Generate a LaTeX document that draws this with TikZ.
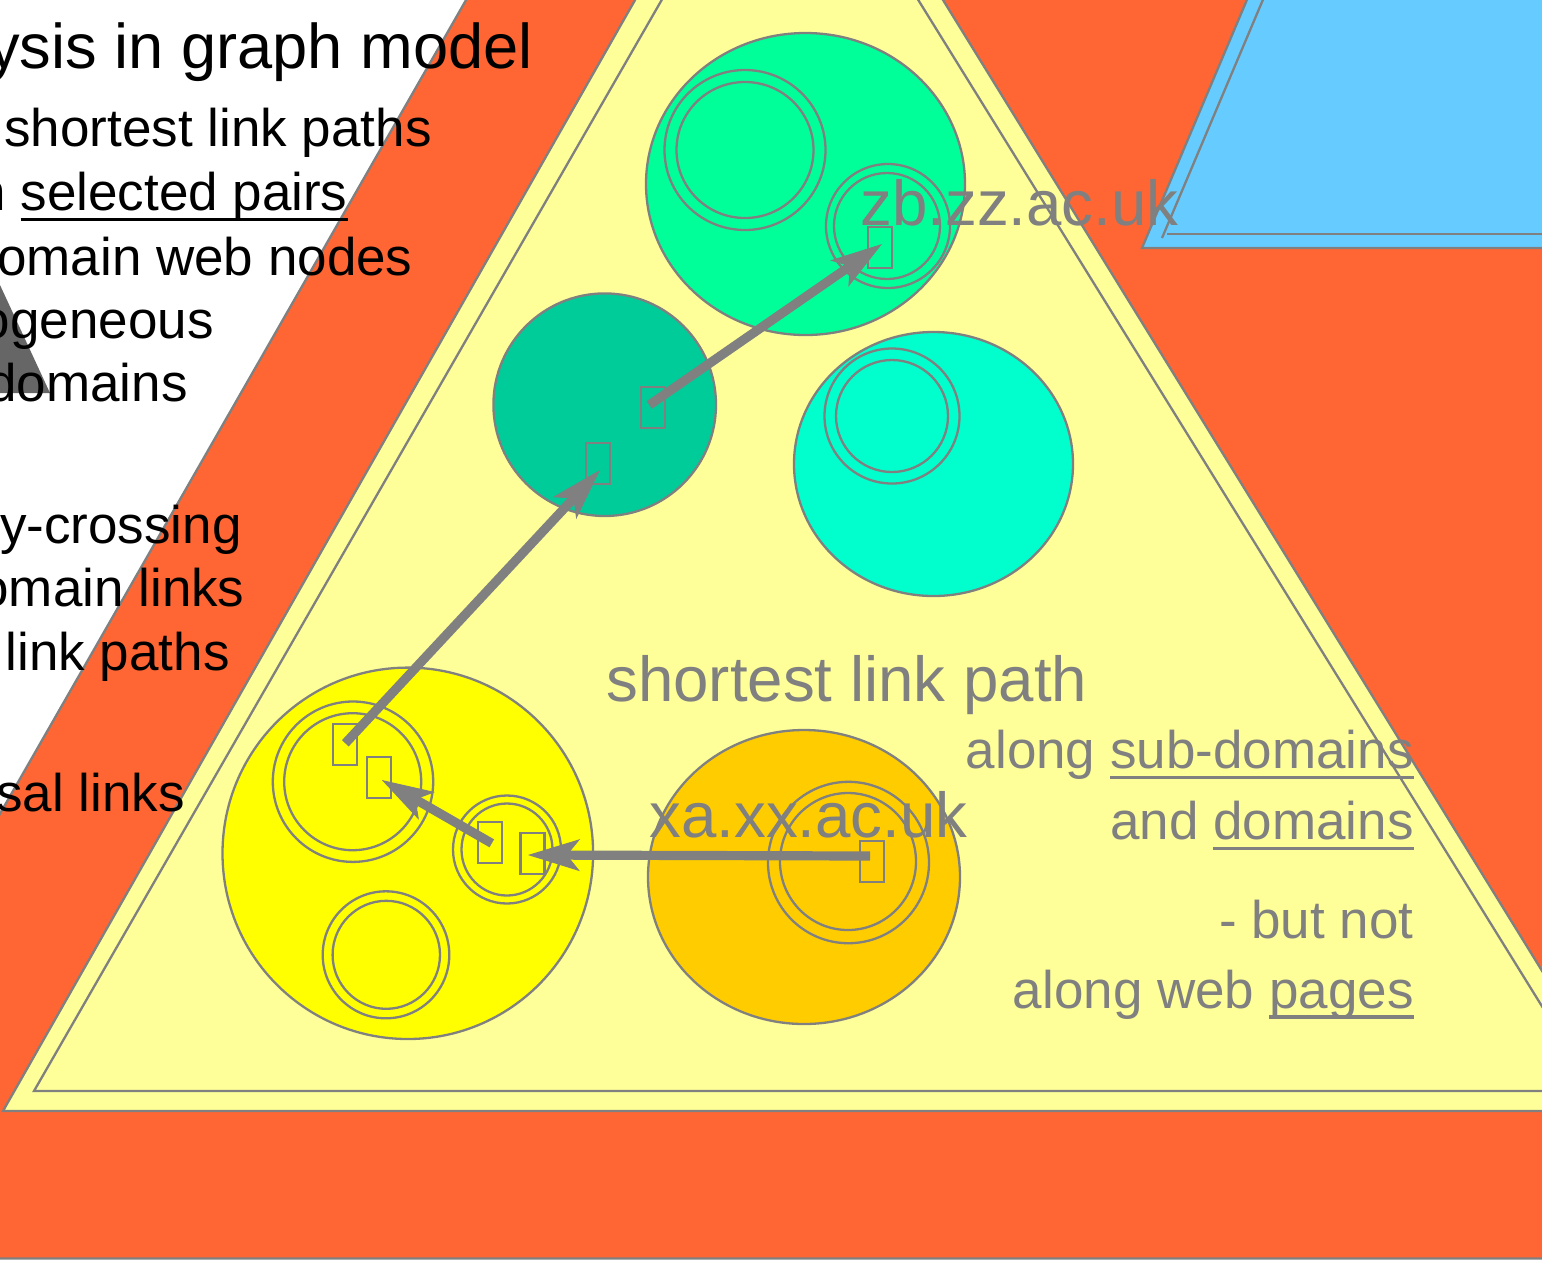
\documentclass[tikz,border=0pt]{standalone}
\usepackage{fontspec}
\setmainfont{Liberation Sans}
\usetikzlibrary{arrows.meta}

\definecolor{bgorange}{HTML}{FF6633}
\definecolor{paleyellow}{HTML}{FFFF99}
\definecolor{skyblue}{HTML}{66CCFF}
\definecolor{springgreen}{HTML}{00FF99}
\definecolor{seagreen}{HTML}{00CC99}
\definecolor{aquagreen}{HTML}{00FFCC}
\definecolor{brightyellow}{HTML}{FFFF00}
\definecolor{goldyellow}{HTML}{FFCC00}
\definecolor{linegray}{HTML}{808080}
\definecolor{shadegray}{HTML}{666666}

% underline drawn as a rule below the baseline, independent of descenders
\newcommand\ulword[1]{\setbox0=\hbox{#1}\rlap{\rule[-0.2em]{\wd0}{0.06em}}\box0}

\tikzset{
  outline/.style={draw=linegray, line width=1.15pt},
  pagebox/.style={draw=linegray, line width=1.15pt, minimum width=12pt,
    minimum height=20.5pt, inner sep=0pt},
  linkarrow/.style={draw=linegray, line width=4.6pt,
    -{Stealth[length=26pt, width=16pt, inset=6.5pt, line width=0.5pt]}},
  bodytext/.style={inner sep=0pt, font=\fontsize{26.5pt}{30pt}\selectfont},
  bigtext/.style={inner sep=0pt, font=\fontsize{31.8pt}{36pt}\selectfont},
}

\begin{document}
\begin{tikzpicture}[x=0.5pt, y=-0.5pt]
\useasboundingbox (0,0) rectangle (1542,1260);
\clip (0,0) rectangle (1542,1260);
\fill[white] (0,0) rectangle (1542,1260);

% dark grey wedge at the left margin
\fill[shadegray] (-20,241.8) -- (50,393) -- (-20,393) -- cycle;

% large orange background triangle
\filldraw[outline, fill=bgorange] (494.7,-50) -- (1700,-50) -- (1700,1258.5)
  -- (-254.8,1258.5) -- cycle;

% blue triangle, top right
\filldraw[outline, fill=skyblue] (1142,248) -- (1268,-50) -- (1700,-50)
  -- (1700,248) -- cycle;
\draw[outline] (1284,-50) -- (1162,238);
\draw[outline] (1167,234) -- (1700,234);

% pale yellow triangle with inner border line
\filldraw[outline, fill=paleyellow] (782.8,-259.7) -- (3,1111) -- (1628.5,1111) -- cycle;
\draw[outline] (785.2,-214.7) -- (34,1091) -- (1594.5,1091) -- cycle;

% domain circles
\filldraw[outline, fill=springgreen] (805.5,184) ellipse [x radius=159.5, y radius=151];
\draw[outline] (745,150) ellipse [x radius=80.5, y radius=80];
\draw[outline] (745,150) ellipse [x radius=68.5, y radius=68];
\draw[outline] (888,226) circle [radius=62];
\draw[outline] (887,226) circle [radius=53];

\filldraw[outline, fill=seagreen] (604.7,404.7) circle [radius=111.3];

\filldraw[outline, fill=aquagreen] (933.5,464) ellipse [x radius=139.5, y radius=132];
\draw[outline] (892,416) circle [radius=67.5];
\draw[outline] (892,416) circle [radius=56];

\filldraw[outline, fill=brightyellow] (407.8,853.3) ellipse [x radius=185.3, y radius=185.7];
\draw[outline] (353,781.7) circle [radius=80.2];
\draw[outline] (352.7,781.7) circle [radius=68.5];
\draw[outline] (507,849.5) circle [radius=54];
\draw[outline] (507,849.5) ellipse [x radius=45.5, y radius=46];
\draw[outline] (386,954.8) ellipse [x radius=63.3, y radius=63.5];
\draw[outline] (386.3,954.8) ellipse [x radius=53.7, y radius=54];

\filldraw[outline, fill=goldyellow] (804,877) ellipse [x radius=156, y radius=147];
\draw[outline] (848.5,862.5) ellipse [x radius=80.5, y radius=80.7];
\draw[outline] (848,861.5) ellipse [x radius=68, y radius=68.5];

% web pages
\node[pagebox] (pz)  at (880,247.5) {};
\node[pagebox] (pg1) at (653,407.5) {};
\node[pagebox] (pg2) at (598.3,463.8) {};
\node[pagebox] (pa)  at (345.3,744.5) {};
\node[pagebox] (pb)  at (378.8,777.5) {};
\node[pagebox] (pc)  at (489.8,842.5) {};
\node[pagebox] (pd)  at (532.5,853.8) {};
\node[pagebox] (po)  at (872,861.5) {};

% shortest link path
\draw[linkarrow] ([shift={(-2,-5.5)}]po.center) -- ([shift={(-4.5,1.2)}]pd.center);
\draw[linkarrow] ([shift={(2,0.8)}]pc.center) -- ([shift={(3,2.5)}]pb.center);
\draw[linkarrow] ([shift={(0,-1.2)}]pa.center) -- ([shift={(1.7,6.2)}]pg2.center);
\draw[linkarrow] ([shift={(-3.7,-2.5)}]pg1.center) -- ([shift={(2,-3.5)}]pz.center);

% domain names
\node[bigtext, text=linegray, anchor=base west] (dzb) at (860,225) {zb.zz.ac.uk};
\node[bigtext, text=linegray, anchor=base west] (dxa) at (649,837) {xa.xx.ac.uk};

% explanatory labels
\node[bigtext, text=linegray, anchor=base west] (lab0) at (606,701.7) {shortest link path};
\node[bodytext, text=linegray, anchor=base east] (lab1) at (1414,768.3) {along \ulword{sub-domains}};
\node[bodytext, text=linegray, anchor=base east] (lab2) at (1414,839.3) {and \ulword{domains}};
\node[bodytext, text=linegray, anchor=base east] (lab3) at (1414,938) {- but not};
\node[bodytext, text=linegray, anchor=base east] (lab4) at (1414,1008) {along web \ulword{pages}};

% left-hand text column
\node[inner sep=0pt, font=\fontsize{31.6pt}{36pt}\selectfont, anchor=base east] (head) at (533,68.3) {ysis in graph model};
\node[bodytext, anchor=base east] (c1) at (432,146.7) {shortest link paths};
\node[bodytext, anchor=base east] (c2) at (348,210.7) {n \ulword{selected pairs}};
\node[bodytext, anchor=base east] (c3) at (413,275) {omain web nodes};
\node[bodytext, anchor=base east] (c4) at (214,338.3) {ogeneous};
\node[bodytext, anchor=base east] (c5) at (188,401.7) {domains};
\node[bodytext, anchor=base east] (c6) at (242,543) {y-crossing};
\node[bodytext, anchor=base east] (c7) at (245,606.7) {omain links};
\node[bodytext, anchor=base east] (c8) at (230,670) {link paths};
\node[bodytext, anchor=base east] (c9) at (185,811.7) {sal links};
\end{tikzpicture}
\end{document}
